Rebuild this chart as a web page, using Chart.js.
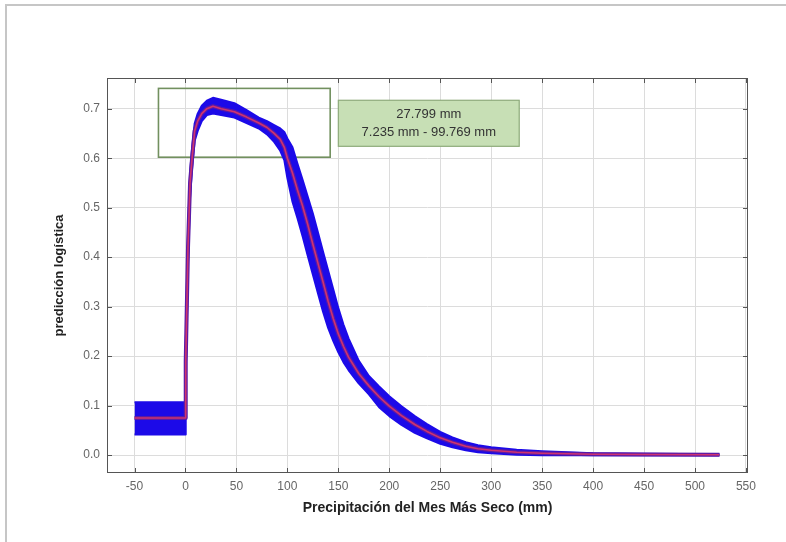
<!DOCTYPE html>
<html>
<head>
<meta charset="utf-8">
<script src="https://cdn.jsdelivr.net/npm/chart.js@4.4.1/dist/chart.umd.min.js"></script>
<style>
  html, body { margin: 0; padding: 0; background: #fff; }
  #wrap { position: relative; width: 786px; height: 542px; }
  #frame { position: absolute; left: 5px; top: 4px; right: 0; bottom: 0;
           border-top: 2px solid #c6c6c6; border-left: 2px solid #c6c6c6; }
  canvas { position: absolute; left: 0; top: 0; }
</style>
</head>
<body>
<div id="wrap">
  <div id="frame"></div>
  <canvas id="respCurve" width="786" height="542"></canvas>
</div>
<script>
// response curve, dry month precipitation
const precip = [-50, 0, 0, 0.5, 2.5, 4.5, 6.5, 9, 12, 16, 21, 27, 35, 48, 60, 72, 80, 87, 93, 97,
  100, 105, 110, 115, 120, 125, 130, 135, 140, 145, 150, 155, 160, 170, 180, 190, 200, 212, 225,
  237, 250, 262, 275, 287, 300, 325, 350, 400, 450, 524];

const predMean = [0.075, 0.075, 0.075, 0.19, 0.42, 0.55, 0.60, 0.655, 0.675, 0.69, 0.70, 0.705, 0.70,
  0.694, 0.683, 0.671, 0.662, 0.65, 0.638, 0.622,
  0.60, 0.57, 0.535, 0.503, 0.466, 0.426, 0.388, 0.35, 0.311, 0.276, 0.245, 0.22, 0.198, 0.165,
  0.14, 0.118, 0.099, 0.08, 0.062, 0.048, 0.035, 0.026, 0.018, 0.013, 0.010, 0.006, 0.004,
  0.002, 0.0015, 0.001];

const predUpper = [0.107, 0.107, 0.075, 0.22, 0.45, 0.57, 0.62, 0.67, 0.69, 0.706, 0.716, 0.722, 0.718,
  0.711, 0.697, 0.682, 0.675, 0.667, 0.66, 0.653,
  0.64, 0.622, 0.588, 0.556, 0.522, 0.488, 0.45, 0.411, 0.373, 0.335, 0.297, 0.264, 0.236, 0.191,
  0.160, 0.139, 0.119, 0.099, 0.079, 0.063, 0.047, 0.036, 0.026, 0.020, 0.016, 0.011, 0.008,
  0.004, 0.003, 0.002];

const predLower = [0.042, 0.042, 0.075, 0.15, 0.39, 0.52, 0.58, 0.635, 0.655, 0.675, 0.687, 0.69, 0.687,
  0.682, 0.671, 0.66, 0.648, 0.633, 0.615, 0.596,
  0.56, 0.512, 0.478, 0.442, 0.403, 0.365, 0.327, 0.29, 0.257, 0.231, 0.208, 0.188, 0.172, 0.145,
  0.123, 0.097, 0.079, 0.061, 0.045, 0.034, 0.023, 0.016, 0.010, 0.006, 0.004, 0.001, 0.0,
  0.0, 0.0, 0.0];

const xTicks = [-50, 0, 50, 100, 150, 200, 250, 300, 350, 400, 450, 500, 550];
const yTicks = [0, 0.1, 0.2, 0.3, 0.4, 0.5, 0.6, 0.7];

const optimumText = ['27.799 mm', '7.235 mm - 99.769 mm'];
const optimumRange = { x: [-26.5, 142], y: [0.602, 0.741] };
const labelBox = { x: [150, 327.5], y: [0.624, 0.717] };

const FONT = "'Liberation Sans', Arial, sans-serif";

function pts(ys) {
  return precip.map((x, i) => ({ x: x, y: ys[i] }));
}

const plotFrame = {
  id: 'plotFrame',
  beforeDatasetsDraw(chart) {
    const { ctx, scales: { x, y } } = chart;
    ctx.save();
    ctx.strokeStyle = '#72905f';
    ctx.lineWidth = 1.6;
    const x0 = x.getPixelForValue(optimumRange.x[0]);
    const x1 = x.getPixelForValue(optimumRange.x[1]);
    const y0 = y.getPixelForValue(optimumRange.y[1]);
    const y1 = y.getPixelForValue(optimumRange.y[0]);
    ctx.strokeRect(x0, y0, x1 - x0, y1 - y0);
    ctx.restore();
  },
  afterDatasetsDraw(chart) {
    const { ctx, chartArea: a, scales: { x, y } } = chart;
    ctx.save();

    // label box
    const bx0 = x.getPixelForValue(labelBox.x[0]);
    const bx1 = x.getPixelForValue(labelBox.x[1]);
    const by0 = y.getPixelForValue(labelBox.y[1]);
    const by1 = y.getPixelForValue(labelBox.y[0]);
    ctx.fillStyle = '#c7dfb5';
    ctx.fillRect(bx0, by0, bx1 - bx0, by1 - by0);
    ctx.strokeStyle = '#8eab7b';
    ctx.lineWidth = 1.2;
    ctx.strokeRect(bx0, by0, bx1 - bx0, by1 - by0);
    ctx.fillStyle = '#333';
    ctx.font = '13px ' + FONT;
    ctx.textAlign = 'center';
    ctx.textBaseline = 'middle';
    const cx = (bx0 + bx1) / 2;
    const cy = (by0 + by1) / 2;
    ctx.fillText(optimumText[0], cx, cy - 9);
    ctx.fillText(optimumText[1], cx, cy + 9);

    // axes box + inward ticks
    ctx.strokeStyle = '#555';
    ctx.lineWidth = 1;
    ctx.strokeRect(a.left + 0.5, a.top + 0.5, a.right - a.left - 1, a.bottom - a.top - 1);
    ctx.beginPath();
    xTicks.forEach(v => {
      const px = Math.round(x.getPixelForValue(v)) + 0.5;
      ctx.moveTo(px, a.bottom); ctx.lineTo(px, a.bottom - 5);
      ctx.moveTo(px, a.top); ctx.lineTo(px, a.top + 5);
    });
    yTicks.forEach(v => {
      const py = Math.round(y.getPixelForValue(v)) + 0.5;
      ctx.moveTo(a.left, py); ctx.lineTo(a.left + 5, py);
      ctx.moveTo(a.right, py); ctx.lineTo(a.right - 5, py);
    });
    ctx.stroke();
    ctx.restore();
  }
};

new Chart(document.getElementById('respCurve'), {
  type: 'line',
  data: {
    datasets: [
      { label: 'media', data: pts(predMean), borderColor: '#d0336e', borderWidth: 1.6 },
      { label: 'media_fondo', data: pts(predMean), borderColor: '#5a1aa6', borderWidth: 4 },
      { label: 'superior', data: pts(predUpper), borderColor: '#1c0ae8', borderWidth: 2 },
      { label: 'inferior', data: pts(predLower), borderColor: '#1c0ae8', borderWidth: 2,
        fill: '-1', backgroundColor: '#1c0ae8' }
    ]
  },
  options: {
    responsive: false,
    animation: false,
    elements: { point: { radius: 0 }, line: { tension: 0, borderJoinStyle: 'round' } },
    layout: { padding: { top: 78, right: 38, left: 0, bottom: 0 } },
    plugins: { legend: { display: false }, tooltip: { enabled: false } },
    scales: {
      x: {
        type: 'linear',
        min: -77,
        max: 552,
        afterFit(s) { s.height = 69; },
        afterBuildTicks(s) { s.ticks = xTicks.map(v => ({ value: v })); },
        grid: { color: '#dcdcdc', drawTicks: false },
        border: { display: false },
        ticks: { color: '#666', padding: 6, font: { family: FONT, size: 12 },
                 maxRotation: 0, callback: v => String(v) },
        title: { display: true, text: 'Precipitación del Mes Más Seco (mm)', color: '#222',
                 font: { family: FONT, size: 14, weight: 'bold' }, padding: { bottom: 25 } }
      },
      y: {
        type: 'linear',
        min: -0.036,
        max: 0.762,
        afterFit(s) { s.width = 107; },
        afterBuildTicks(s) { s.ticks = yTicks.map(v => ({ value: v })); },
        grid: { color: '#dcdcdc', drawTicks: false },
        border: { display: false },
        ticks: { color: '#666', padding: 7, font: { family: FONT, size: 12 },
                 callback: v => v.toFixed(1) },
        title: { display: true, text: 'predicción logística', color: '#222',
                 font: { family: FONT, size: 13, weight: 'bold' }, padding: { top: 52 } }
      }
    }
  },
  plugins: [plotFrame]
});
</script>
</body>
</html>
